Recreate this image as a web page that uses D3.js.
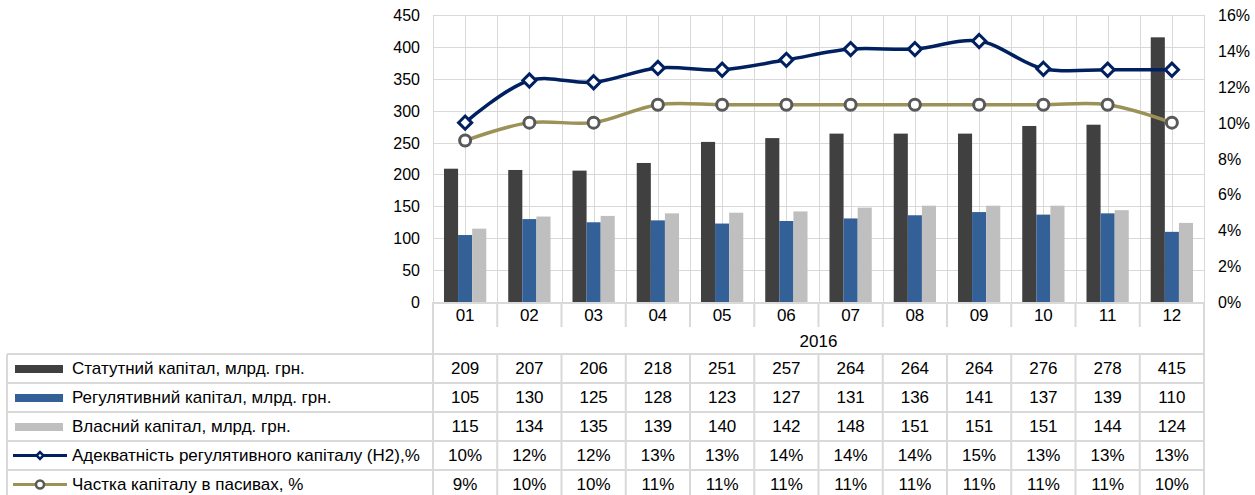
<!DOCTYPE html>
<meta charset="utf-8">
<style>
body {
    margin: 0;
    background: #fff;
    font-family: "Liberation Sans", Arial, sans-serif;
}
.grid line {
    stroke: #d9d9d9;
    stroke-width: 1;
}
.tbl line {
    stroke: #d9d9d9;
    stroke-width: 2;
}
text {
    fill: #000;
    font-size: 17px;
}
.axis text {
    font-size: 16px;
}
</style>
<body>
<script src="https://cdn.jsdelivr.net/npm/d3@7"></script>
<script>
var months = ["01", "02", "03", "04", "05", "06", "07", "08", "09", "10", "11", "12"];
var yearLabel = "2016";
var statutory = [209, 207, 206, 218, 251, 257, 264, 264, 264, 276, 278, 415];
var regulatory = [105, 130, 125, 128, 123, 127, 131, 136, 141, 137, 139, 110];
var equity = [115, 134, 135, 139, 140, 142, 148, 151, 151, 151, 144, 124];
// line values (table shows them rounded)
var adequacy = [10.0, 12.35, 12.25, 13.05, 12.95, 13.5, 14.1, 14.1, 14.55, 13.0, 12.95, 12.95];
var adequacyText = ["10%", "12%", "12%", "13%", "13%", "14%", "14%", "14%", "15%", "13%", "13%", "13%"];
var share = [9, 10, 10, 11, 11, 11, 11, 11, 11, 11, 11, 10];
var shareText = ["9%", "10%", "10%", "11%", "11%", "11%", "11%", "11%", "11%", "11%", "11%", "10%"];
var leftTicks = [0, 50, 100, 150, 200, 250, 300, 350, 400, 450];
var rightTicks = [0, 2, 4, 6, 8, 10, 12, 14, 16];
var seriesNames = [
    "Статутний капітал, млрд. грн.",
    "Регулятивний капітал, млрд. грн.",
    "Власний капітал, млрд. грн.",
    "Адекватність регулятивного капіталу (Н2),%",
    "Частка капіталу в пасивах, %"
];

var width = 1255, height = 495;
var plot = {left: 433, right: 1204, top: 15, bottom: 302};

var svg = d3.select("body").append("svg")
    .attr("width", width)
    .attr("height", height);

var x = d3.scaleBand().domain(months).range([plot.left, plot.right]);
var yL = d3.scaleLinear().domain([0, 450]).range([plot.bottom, plot.top]);
var yR = d3.scaleLinear().domain([0, 16]).range([plot.bottom, plot.top]);
var inner = d3.scaleBand().domain([0, 1, 2]).range([0, x.bandwidth()]).paddingOuter(0.78);

// gridlines
var grid = svg.append("g").attr("class", "grid");
grid.selectAll(".h").data(leftTicks).enter().append("line")
    .attr("x1", plot.left).attr("x2", plot.right)
    .attr("y1", function(d) { return Math.round(yL(d)) + 0.5; })
    .attr("y2", function(d) { return Math.round(yL(d)) + 0.5; });
var vx = [];
months.forEach(function(m) {
    vx.push(x(m));
    vx.push(x(m) + x.bandwidth() / 2);
});
vx.push(plot.right);
grid.selectAll(".v").data(vx).enter().append("line")
    .attr("x1", function(d) { return Math.round(d) + 0.5; })
    .attr("x2", function(d) { return Math.round(d) + 0.5; })
    .attr("y1", plot.top).attr("y2", plot.bottom);

// axes labels
svg.append("g").attr("class", "axis").selectAll("text").data(leftTicks).enter().append("text")
    .attr("x", 420).attr("y", function(d) { return yL(d) + 6; })
    .attr("text-anchor", "end")
    .text(function(d) { return d; });
svg.append("g").attr("class", "axis").selectAll("text").data(rightTicks).enter().append("text")
    .attr("x", 1218).attr("y", function(d) { return yR(d) + 6; })
    .text(function(d) { return d + "%"; });

// bars
var barColors = ["#404040", "#336096", "#bfbfbf"];
var barSeries = [statutory, regulatory, equity];
barSeries.forEach(function(vals, s) {
    svg.append("g").selectAll("rect").data(vals).enter().append("rect")
        .attr("x", function(d, i) { return x(months[i]) + inner(s); })
        .attr("width", inner.bandwidth())
        .attr("y", function(d) { return yL(d); })
        .attr("height", function(d) { return yL(0) - yL(d); })
        .attr("fill", barColors[s]);
});

// lines
var cx = function(d, i) { return x(months[i]) + x.bandwidth() / 2; };
var lineGen = d3.line()
    .x(cx)
    .y(function(d) { return yR(d); })
    .curve(d3.curveCatmullRom.alpha(0.5));

svg.append("path").datum(share)
    .attr("d", lineGen)
    .attr("fill", "none")
    .attr("stroke", "#9c9157")
    .attr("stroke-width", 3.5);
svg.append("path").datum(adequacy)
    .attr("d", lineGen)
    .attr("fill", "none")
    .attr("stroke", "#002060")
    .attr("stroke-width", 3.5);

svg.append("g").selectAll("circle").data(share).enter().append("circle")
    .attr("cx", cx)
    .attr("cy", function(d) { return yR(d); })
    .attr("r", 5.5)
    .attr("fill", "#fff")
    .attr("stroke", "#595959")
    .attr("stroke-width", 3);
svg.append("g").selectAll("path").data(adequacy).enter().append("path")
    .attr("d", d3.symbol().type(d3.symbolDiamond2).size(110))
    .attr("transform", function(d, i) { return "translate(" + cx(d, i) + "," + yR(d) + ")"; })
    .attr("fill", "#fff")
    .attr("stroke", "#002060")
    .attr("stroke-width", 3);

// data table
var rowTop = 354, rowH = 29;
var tbl = svg.append("g").attr("class", "tbl");
// category row
tbl.append("line").attr("x1", plot.left).attr("x2", plot.right + 1).attr("y1", plot.bottom + 1).attr("y2", plot.bottom + 1);
months.forEach(function(m, i) {
    if (i > 0) {
        tbl.append("line").attr("x1", x(m)).attr("x2", x(m))
            .attr("y1", plot.bottom).attr("y2", 327);
    }
});
tbl.append("line").attr("x1", plot.left).attr("x2", plot.left).attr("y1", plot.bottom).attr("y2", rowTop);
tbl.append("line").attr("x1", plot.right).attr("x2", plot.right).attr("y1", plot.bottom).attr("y2", 500);
svg.append("g").selectAll("text").data(months).enter().append("text")
    .attr("x", function(d) { return x(d) + x.bandwidth() / 2; })
    .attr("y", 321)
    .attr("text-anchor", "middle")
    .text(function(d) { return d; });
svg.append("text")
    .attr("x", (plot.left + plot.right) / 2).attr("y", 347)
    .attr("text-anchor", "middle")
    .text(yearLabel);

// row grid
var tableRows = [statutory, regulatory, equity, adequacyText, shareText];
tableRows.forEach(function(r, k) {
    tbl.append("line").attr("x1", 7).attr("x2", plot.right + 1)
        .attr("y1", rowTop + k * rowH).attr("y2", rowTop + k * rowH);
});
tbl.append("line").attr("x1", 7).attr("x2", plot.right + 1)
    .attr("y1", rowTop + 5 * rowH).attr("y2", rowTop + 5 * rowH);
tbl.append("line").attr("x1", 7).attr("x2", 7).attr("y1", rowTop).attr("y2", 500);
months.forEach(function(m) {
    tbl.append("line").attr("x1", x(m)).attr("x2", x(m))
        .attr("y1", rowTop).attr("y2", 500);
});

tableRows.forEach(function(r, k) {
    svg.append("g").selectAll("text").data(r).enter().append("text")
        .attr("x", function(d, i) { return x(months[i]) + x.bandwidth() / 2; })
        .attr("y", rowTop + k * rowH + 20)
        .attr("text-anchor", "middle")
        .text(function(d) { return d; });
});

// legend keys
var keys = svg.append("g");
barColors.forEach(function(c, s) {
    keys.append("rect")
        .attr("x", 15).attr("y", rowTop + s * rowH + 11)
        .attr("width", 48).attr("height", 8)
        .attr("fill", c);
});
keys.append("line")
    .attr("x1", 13).attr("x2", 67)
    .attr("y1", rowTop + 3 * rowH + 14.5).attr("y2", rowTop + 3 * rowH + 14.5)
    .attr("stroke", "#002060").attr("stroke-width", 3);
keys.append("path")
    .attr("d", d3.symbol().type(d3.symbolDiamond2).size(30))
    .attr("transform", "translate(40," + (rowTop + 3 * rowH + 14.5) + ")")
    .attr("fill", "#fff").attr("stroke", "#002060").attr("stroke-width", 2.5);
keys.append("line")
    .attr("x1", 13).attr("x2", 67)
    .attr("y1", rowTop + 4 * rowH + 14.5).attr("y2", rowTop + 4 * rowH + 14.5)
    .attr("stroke", "#9c9157").attr("stroke-width", 3);
keys.append("circle")
    .attr("cx", 40).attr("cy", rowTop + 4 * rowH + 14.5).attr("r", 4)
    .attr("fill", "#fff").attr("stroke", "#595959").attr("stroke-width", 2.5);
svg.append("g").selectAll("text").data(seriesNames).enter().append("text")
    .attr("x", 72)
    .attr("y", function(d, k) { return rowTop + k * rowH + 20; })
    .text(function(d) { return d; });
</script>
</body>
